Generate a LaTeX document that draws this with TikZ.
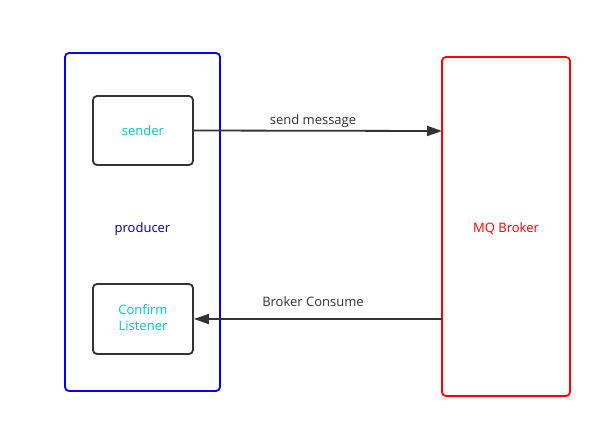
\documentclass[tikz,border=0pt]{standalone}
\usepackage{fontspec}
\setmainfont{Open Sans}
\usetikzlibrary{arrows.meta}
\definecolor{dk}{HTML}{333333}
\definecolor{cy}{HTML}{00C8C8}
\definecolor{nv}{HTML}{000080}
\begin{document}
\begin{tikzpicture}[x=1pt,y=-1pt,
  lbl/.style={font=\fontsize{13}{16}\selectfont},
  inner/.style={draw=dk,line width=1.8pt,rounded corners=4pt,text=cy,align=center,font=\fontsize{13}{16}\selectfont},
  outer/.style={line width=1.8pt,rounded corners=4pt},
  conn/.style={draw=dk,line width=1.8pt,-{Triangle[length=15pt,width=10pt]}}]
\useasboundingbox (0,0) rectangle (597,429);
\fill[white] (0,0) rectangle (597,429);
\draw[outer,draw=blue] (65,53) rectangle (220,391);
\node[lbl,text=nv] (prod) at (142.5,229) {producer};
\draw[outer,draw=red] (442,57) rectangle (570,396);
\coordinate (brokerL1) at (442,131);
\coordinate (brokerL2) at (442,319);
\node[lbl,text=red] (broker) at (506,229) {MQ Broker};
\node[inner,minimum width=100pt,minimum height=69pt] (sender) at (143,130.5) {\raisebox{-1.5pt}{sender}};
\node[inner,minimum width=100pt,minimum height=70pt] (confirm) at (143,319) {\raisebox{-1pt}{\begin{tabular}{@{}c@{}}Confirm\\Listener\end{tabular}}};
\draw[conn] (sender.east) -- (brokerL1);
\draw[conn] (brokerL2) -- (confirm.east);
\node[lbl,text=dk] (l1) at (313,121.5) {send message};
\node[lbl,text=dk] (l2) at (313,301.5) {Broker Consume};
\end{tikzpicture}
\end{document}
